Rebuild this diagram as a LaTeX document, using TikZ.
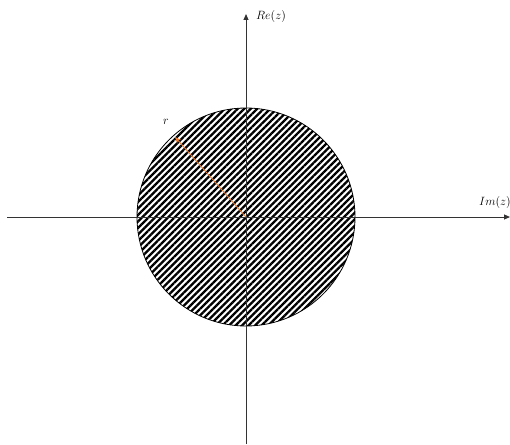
\documentclass[tikz,border=0pt]{standalone}
\usetikzlibrary{patterns.meta,arrows.meta}
\definecolor{arrorange}{RGB}{237,125,49}
\tikzset{
  axis/.style={draw=black!80, line width=1pt, -{Triangle[length=6pt,width=5pt]}},
  lbl/.style={inner sep=0pt, anchor=west, font=\fontsize{13}{15}\selectfont},
  radius arrow/.style={draw=arrorange, line width=0.9pt, -{Stealth[length=6pt,width=5pt]}},
  hatched/.style={pattern={Lines[angle=45,distance=4.6pt,line width=2.3pt]}, pattern color=black, draw=black, line width=0.8pt}
}
\begin{document}
\begin{tikzpicture}[x=1pt,y=-1pt]
\useasboundingbox[fill=white] (0,0) rectangle (510,444);
\coordinate (O) at (246,217);
\coordinate (xs) at (7,217);
\coordinate (xe) at (510,217);
\coordinate (ys) at (246,444);
\coordinate (ye) at (246,14);
\coordinate (rt) at (175,137);
\path[hatched] (O) circle[radius=109];
\draw[axis] (xs) -- (xe);
\draw[axis] (ys) -- (ye);
\draw[radius arrow] (O) -- (rt);
\node[lbl] (re) at (256,17) {$Re(z)$};
\node[lbl] (im) at (479,202) {$Im(z)$};
\node[lbl] (r) at (163,122) {$r$};
\end{tikzpicture}
\end{document}
